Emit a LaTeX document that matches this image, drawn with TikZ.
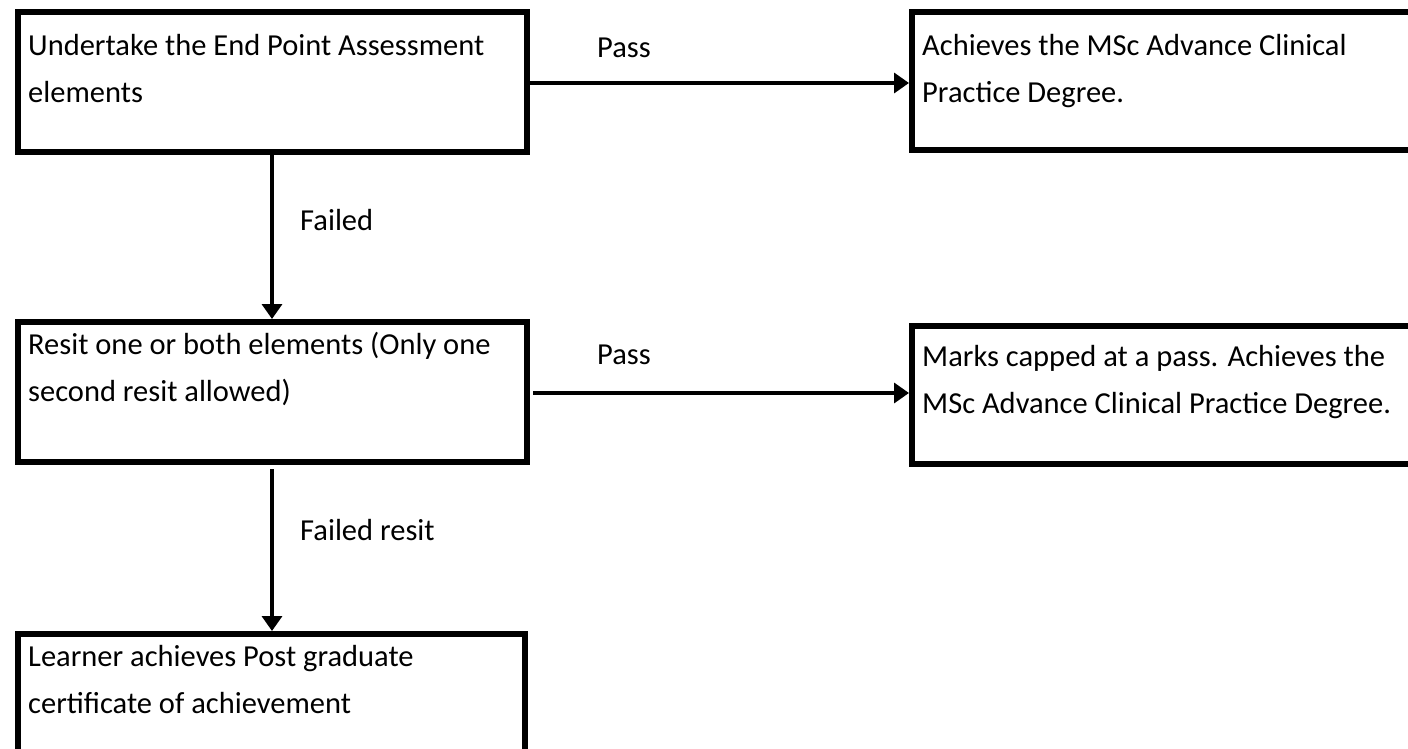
\documentclass[tikz,border=0pt]{standalone}
\usepackage{fontspec}
\setmainfont{Carlito}
\usetikzlibrary{arrows.meta}
\begin{document}
\begin{tikzpicture}[x=1pt,y=-1pt,
  boxframe/.style={draw=black,line width=6pt},
  txt/.style={anchor=north west,inner sep=0pt,align=left,font=\fontsize{30.5pt}{47pt}\selectfont},
  lbl/.style={anchor=base west,inner sep=0pt,font=\fontsize{30.5pt}{47pt}\selectfont},
  conn/.style={draw=black,line width=3.5pt,-{Triangle[width=20pt,length=15pt]}}]
\useasboundingbox (0,0) rectangle (1408,749);
\fill[white] (0,0) rectangle (1408,749);
% boxes (path at centre of 6pt border)
\node[boxframe,minimum width=509pt,minimum height=140pt,anchor=north west,inner sep=0pt] (a) at (15,9) {};
\node[boxframe,minimum width=511pt,minimum height=138pt,anchor=north west,inner sep=0pt] (b) at (909,9) {};
\node[boxframe,minimum width=509pt,minimum height=140pt,anchor=north west,inner sep=0pt] (c) at (15,319) {};
\node[boxframe,minimum width=511pt,minimum height=138pt,anchor=north west,inner sep=0pt] (d) at (909,323) {};
\node[boxframe,minimum width=507pt,minimum height=140pt,anchor=north west,inner sep=0pt] (e) at (15,631) {};
% texts
\node[txt] (ta) at (28,22) {\strut Undertake the End Point Assessment\\elements};
\node[txt] (tb) at (922,22) {\strut Achieves the MSc Advance Clinical\\Practice Degree.};
\node[txt] (tc) at (28,321) {\strut Resit one or both elements (Only one\\second resit allowed)};
\node[txt] (td) at (922,333) {\strut Marks capped at a pass. Achieves the\\MSc Advance Clinical Practice Degree.};
\node[txt] (te) at (28,633) {\strut Learner achieves Post graduate\\certificate of achievement};
% connectors
\coordinate (a1) at (527,83);
\coordinate (c1) at (533,393);
\draw[conn] (a1) -- (a1 -| b.west);
\draw[conn] (c1) -- (c1 -| d.west);
\draw[conn] (a.south -| 272,0) -- (c.north -| 272,0);
\draw[conn] ([yshift=-4pt]c.south -| 272,0) -- (e.north -| 272,0);
% labels
\node[lbl] (l1) at (597,58) {Pass};
\node[lbl] (l2) at (300,230) {Failed};
\node[lbl] (l3) at (597,364) {Pass};
\node[lbl] (l4) at (300,540) {Failed resit};
\end{tikzpicture}
\end{document}
